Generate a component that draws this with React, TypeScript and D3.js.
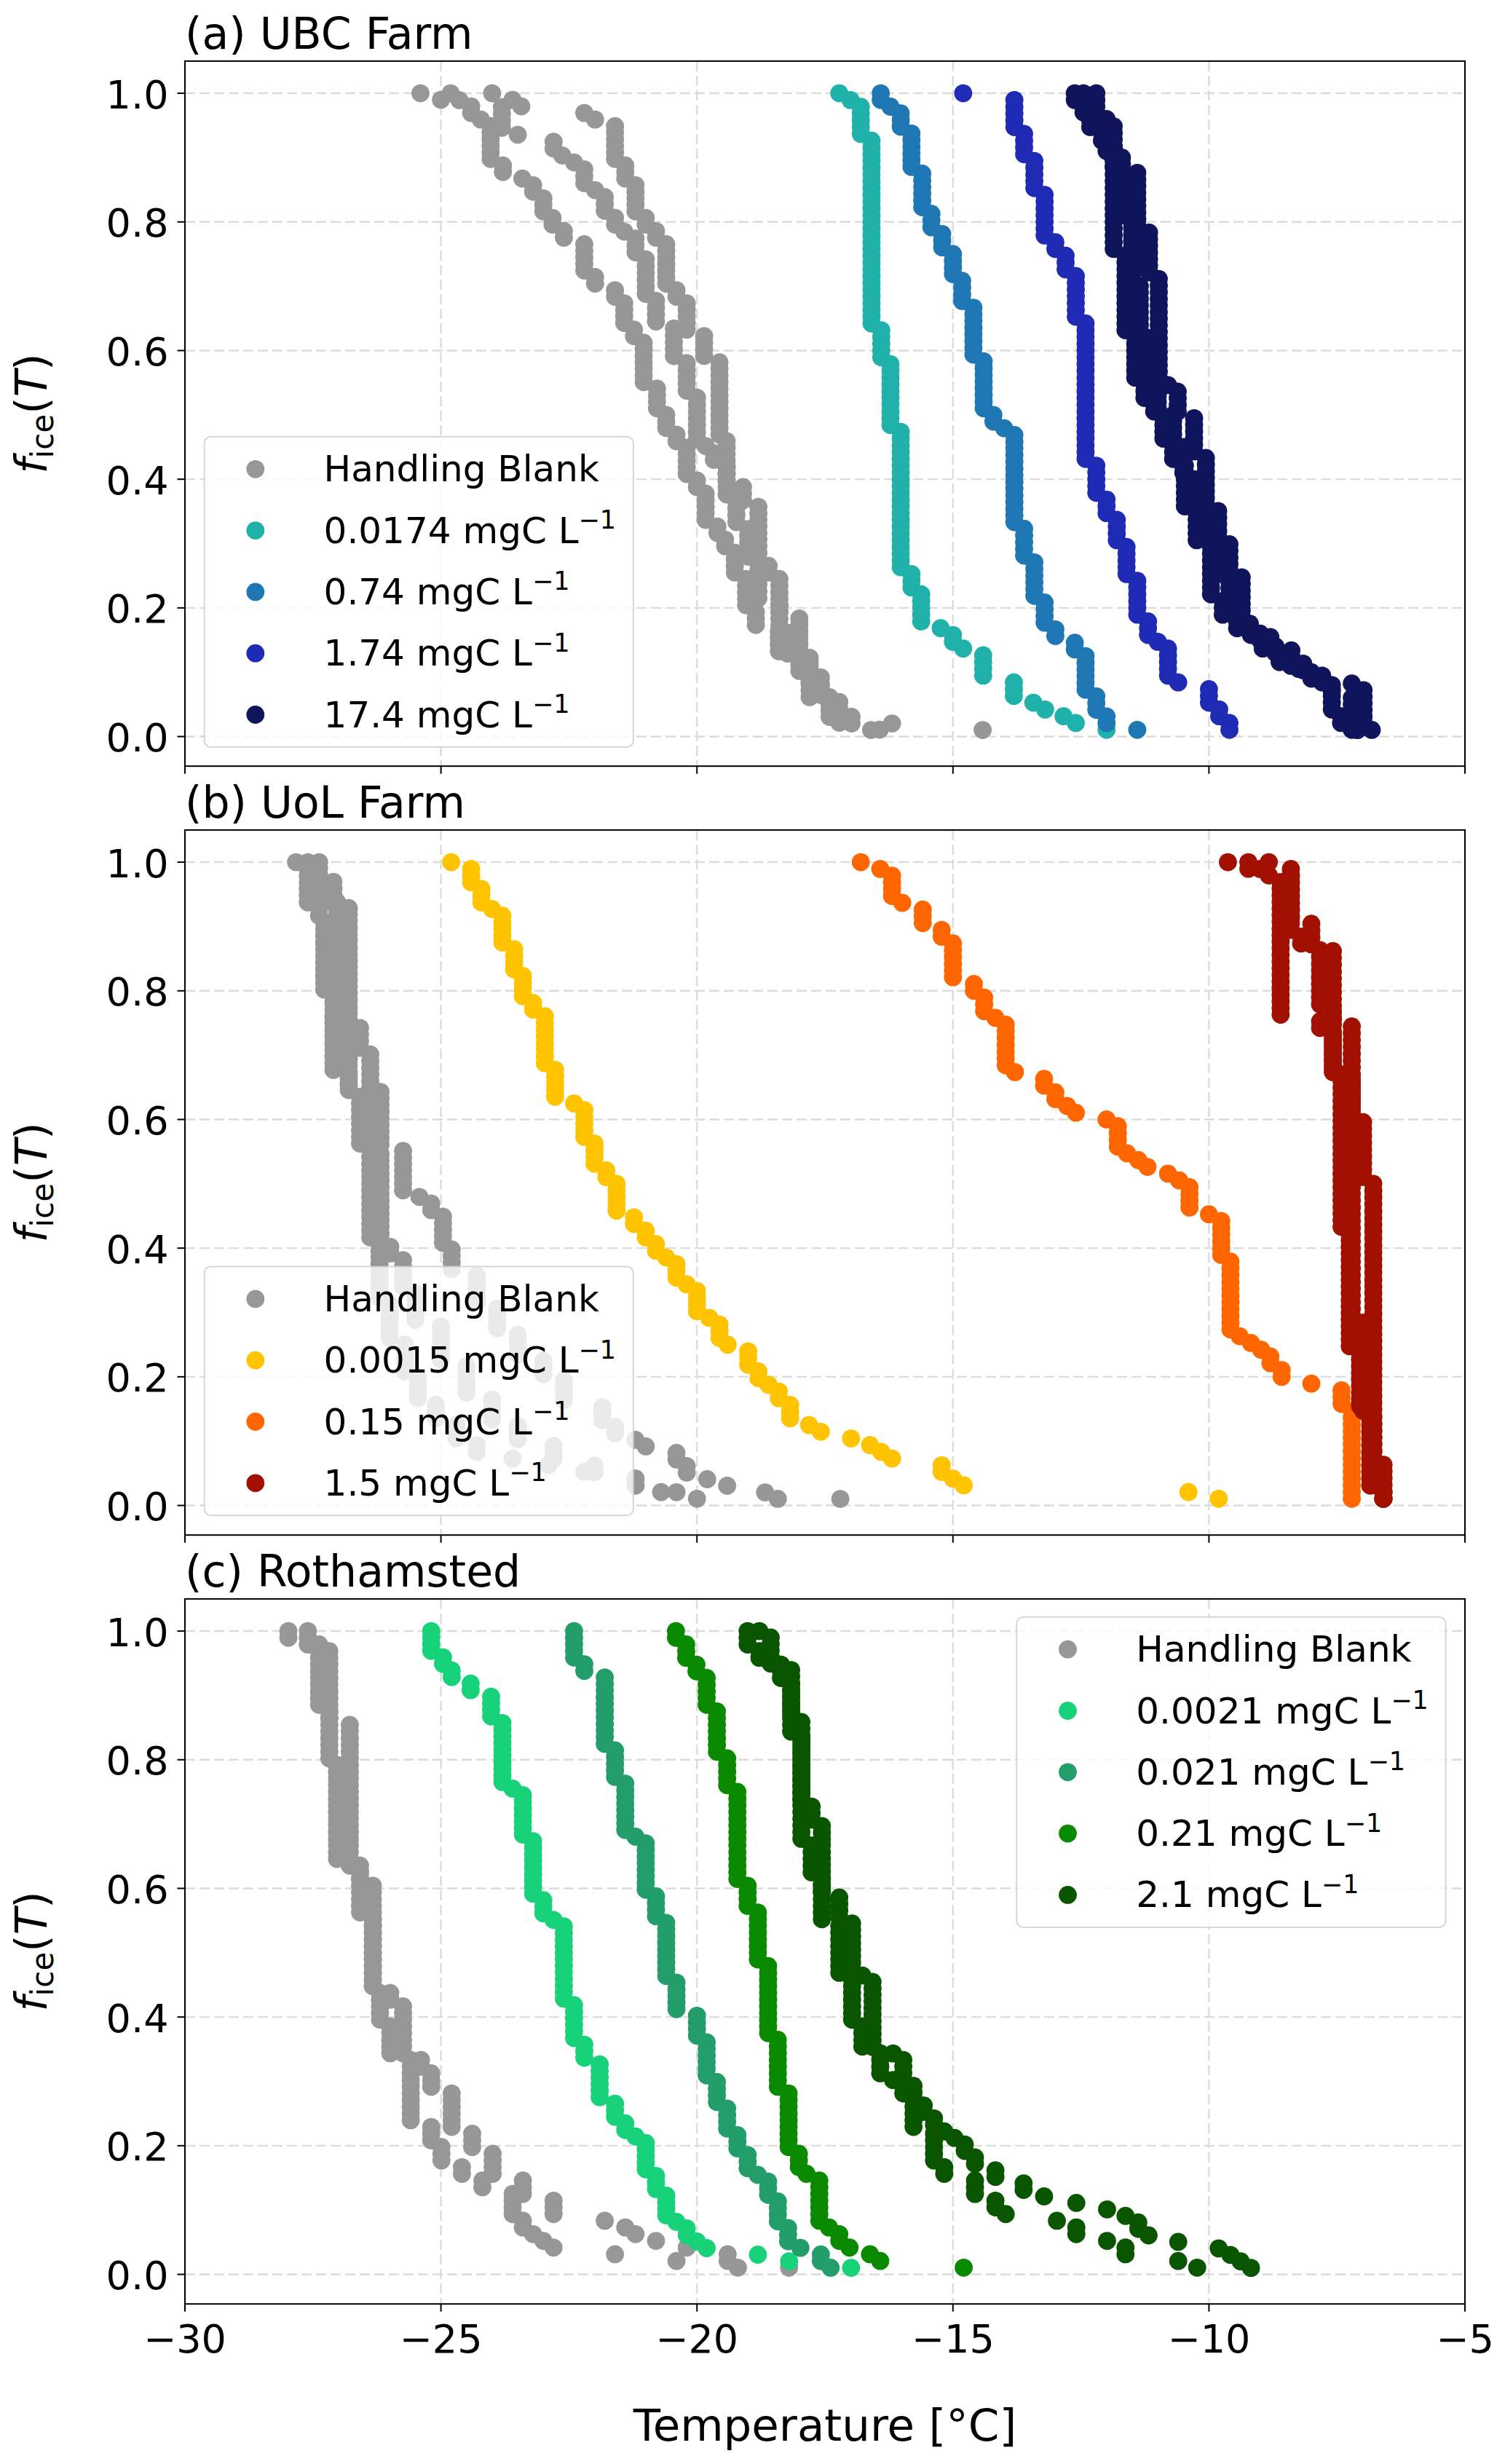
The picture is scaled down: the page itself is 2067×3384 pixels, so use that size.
import React from 'react';
import * as d3 from 'd3';

// Each run: [temperature in °C, number of droplets that froze at that temperature]
// listed from the coldest run (f_ice = 1) to the warmest one.
type Run = [number, number];

// ---------------- axes ----------------
const X_TICKS = [-30, -25, -20, -15, -10, -5];
const Y_TICKS = [0, 0.2, 0.4, 0.6, 0.8, 1.0];
const X_DOMAIN: [number, number] = [-30, -5];
const Y_DOMAIN: [number, number] = [-0.046, 1.05];

// ---------------- text ----------------
const PANEL_TITLES = ['(a) UBC Farm', '(b) UoL Farm', '(c) Rothamsted'];
const UBC_LABELS = ['Handling Blank', '0.0174', '0.74', '1.74', '17.4'];
const UOL_LABELS = ['Handling Blank', '0.0015', '0.15', '1.5'];
const ROTH_LABELS = ['Handling Blank', '0.0021', '0.021', '0.21', '2.1'];

// ---------------- colours ----------------
const GRAY = '#979797';
const UBC_COLORS = [GRAY, '#20b2aa', '#1f77b4', '#1f2bb4', '#10145a'];
const UOL_COLORS = [GRAY, '#ffc300', '#ff6600', '#a11000'];
const ROTH_COLORS = [GRAY, '#18d27a', '#239d69', '#0a8a00', '#0a5500'];

// ---------------- (a) UBC Farm ----------------
const UBC_BLANK_1: Run[] = [[-25.4,1],[-25.0,1],[-24.41,2],[-24.22,1],[-24.03,6],[-23.79,2],[-23.41,1],[-23.2,2],[-23.0,3],[-22.82,2],[-22.6,2],[-22.2,5],[-21.99,2],[-21.6,2],[-21.42,4],[-21.23,2],[-21.04,7],[-20.78,4],[-20.6,3],[-20.4,2],[-20.2,5],[-20.0,2],[-19.83,5],[-19.6,2],[-19.45,2],[-19.26,4],[-19.04,5],[-18.85,3],[-18.4,4],[-18.0,3],[-17.8,4],[-17.41,3],[-16.98,1],[-16.6,1]];
const UBC_BLANK_2: Run[] = [[-24.81,1],[-24.64,1],[-23.81,4],[-23.5,1],[-22.8,2],[-22.63,1],[-22.4,1],[-22.2,3],[-21.99,1],[-21.8,3],[-21.6,2],[-21.42,1],[-21.2,3],[-21.0,6],[-20.8,4],[-20.45,5],[-20.2,5],[-20.0,7],[-19.83,1],[-19.67,2],[-19.42,5],[-19.23,4],[-19.0,5],[-18.8,6],[-18.39,4],[-18.23,4],[-17.8,4],[-17.58,2],[-17.22,4],[-16.43,1]];
const UBC_BLANK_3: Run[] = [[-24.0,1],[-23.6,1],[-23.43,1],[-22.2,1],[-21.99,1],[-21.6,6],[-21.4,3],[-21.2,5],[-21.0,2],[-20.8,2],[-20.6,7],[-20.4,2],[-20.2,5],[-19.86,4],[-19.56,12],[-19.42,7],[-19.1,3],[-18.8,9],[-18.6,2],[-18.39,6],[-18.0,6],[-17.8,3],[-17.58,3],[-17.41,3],[-16.98,1],[-16.19,1],[-14.42,1]];
const UBC_00174: Run[] = [[-17.22,1],[-17.0,1],[-16.8,5],[-16.59,28],[-16.4,5],[-16.22,10],[-16.02,21],[-15.81,3],[-15.62,5],[-15.24,1],[-15.0,2],[-14.8,1],[-14.41,4],[-13.81,3],[-13.43,1],[-13.2,1],[-12.84,1],[-12.6,1],[-12.0,1]];
const UBC_074: Run[] = [[-16.41,2],[-16.22,1],[-16.02,3],[-15.81,6],[-15.6,6],[-15.42,3],[-15.21,3],[-15.0,4],[-14.82,4],[-14.6,8],[-14.4,8],[-14.21,2],[-14.0,1],[-13.8,14],[-13.61,5],[-13.41,6],[-13.21,4],[-13.0,2],[-12.62,2],[-12.41,6],[-12.2,3],[-12.0,2],[-11.4,1]];
const UBC_174: Run[] = [[-14.8,1],[-13.8,5],[-13.61,4],[-13.41,5],[-13.21,7],[-13.0,2],[-12.8,3],[-12.6,7],[-12.41,21],[-12.2,5],[-12.0,3],[-11.8,4],[-11.61,5],[-11.4,6],[-11.19,3],[-11.0,1],[-10.8,5],[-10.6,1],[-10.0,3],[-9.8,2],[-9.6,2]];
const UBC_17_4_1: Run[] = [[-12.62,2],[-12.32,4],[-12.09,2],[-11.86,16],[-11.63,12],[-11.44,7],[-11.26,3],[-11.07,2],[-10.89,4],[-10.7,3],[-10.47,7],[-10.24,5],[-9.96,8],[-9.73,3],[-9.45,2],[-9.18,1],[-8.95,2],[-8.62,2],[-8.25,1],[-7.79,2],[-7.6,4],[-7.42,2],[-7.21,1]];
const UBC_17_4_2: Run[] = [[-12.45,4],[-12.0,6],[-11.7,10],[-11.5,10],[-11.35,8],[-11.2,6],[-11.0,6],[-10.7,5],[-10.5,5],[-10.3,4],[-10.1,6],[-9.9,6],[-9.6,5],[-9.4,3],[-9.0,2],[-8.7,2],[-8.4,2],[-8.0,2],[-7.6,2],[-7.21,4],[-7.1,2]];
const UBC_17_4_3: Run[] = [[-12.2,5],[-11.86,7],[-11.4,9],[-11.17,7],[-10.98,16],[-10.8,1],[-10.61,4],[-10.29,6],[-10.06,8],[-9.82,5],[-9.6,5],[-9.36,7],[-9.2,2],[-8.8,2],[-8.39,2],[-8.16,2],[-7.79,1],[-7.21,1],[-6.98,6],[-6.82,1]];

// ---------------- (b) UoL Farm ----------------
const UOL_BLANK_1: Run[] = [[-27.83,1],[-27.6,6],[-27.38,2],[-27.28,11],[-27.1,12],[-26.8,3],[-26.58,8],[-26.38,14],[-26.2,9],[-26.0,6],[-25.7,5],[-25.45,4],[-25.1,3],[-24.7,3],[-24.3,2],[-23.6,1],[-22.9,1],[-22.2,1],[-21.2,2],[-20.7,1],[-20.0,1]];
const UOL_BLANK_2: Run[] = [[-27.6,2],[-27.38,4],[-27.03,19],[-26.58,4],[-26.38,15],[-26.18,14],[-25.99,2],[-25.74,5],[-25.5,5],[-25.0,6],[-24.5,5],[-24.0,4],[-23.5,3],[-22.8,3],[-22.0,2],[-21.2,2],[-20.4,1],[-18.42,1]];
const UOL_BLANK_3: Run[] = [[-27.38,3],[-27.1,4],[-26.8,28],[-26.18,9],[-25.74,7],[-25.42,1],[-25.19,2],[-24.96,5],[-24.79,4],[-24.3,5],[-23.9,4],[-23.5,4],[-23.0,3],[-22.6,4],[-21.85,3],[-21.6,2],[-21.2,1],[-21.0,1],[-20.4,2],[-20.2,2],[-19.8,1],[-19.41,1],[-18.67,1],[-17.2,1]];
const UOL_00015: Run[] = [[-24.8,1],[-24.41,3],[-24.21,3],[-24.0,1],[-23.8,5],[-23.57,4],[-23.4,4],[-23.2,2],[-22.97,8],[-22.77,5],[-22.4,1],[-22.2,5],[-22.0,4],[-21.77,2],[-21.57,5],[-21.23,2],[-21.0,2],[-20.8,2],[-20.6,1],[-20.4,3],[-20.2,1],[-20.0,4],[-19.76,1],[-19.56,3],[-19.4,1],[-19.0,3],[-18.8,2],[-18.6,1],[-18.4,2],[-18.18,3],[-17.81,1],[-17.58,1],[-16.99,1],[-16.62,1],[-16.4,1],[-16.19,1],[-15.22,2],[-15.0,1],[-14.79,1],[-10.4,1],[-9.81,1]];
const UOL_015: Run[] = [[-16.8,1],[-16.42,1],[-16.19,4],[-15.99,1],[-15.59,3],[-15.22,2],[-15.0,6],[-14.59,2],[-14.39,3],[-14.17,1],[-13.97,7],[-13.79,1],[-13.22,2],[-13.0,2],[-12.77,1],[-12.6,1],[-12.0,1],[-11.78,4],[-11.6,1],[-11.38,1],[-11.2,1],[-10.8,1],[-10.58,1],[-10.38,4],[-10.0,1],[-9.76,6],[-9.58,11],[-9.4,1],[-9.18,1],[-8.98,1],[-8.8,2],[-8.58,2],[-8.0,1],[-7.41,3],[-7.21,14]];
const UOL_15_1: Run[] = [[-9.63,1],[-9.23,1],[-8.83,1],[-8.6,21],[-7.83,2],[-7.58,6],[-7.41,24],[-7.25,18],[-7.05,9],[-6.85,12],[-6.6,2]];
const UOL_15_2: Run[] = [[-9.23,1],[-9.0,1],[-8.4,9],[-8.2,2],[-7.83,9],[-7.58,10],[-7.21,36],[-6.99,14],[-6.79,7],[-6.59,6]];
const UOL_15_3: Run[] = [[-8.83,1],[-8.4,8],[-8.0,4],[-7.58,11],[-7.21,14],[-6.99,9],[-6.79,45],[-6.59,2]];

// ---------------- (c) Rothamsted ----------------
const ROTH_BLANK_1: Run[] = [[-27.98,2],[-27.38,10],[-27.18,8],[-27.03,15],[-26.58,8],[-26.33,11],[-26.19,5],[-25.99,5],[-25.59,10],[-25.19,3],[-24.99,3],[-24.59,2],[-24.19,2],[-23.6,4],[-23.4,2],[-23.2,1],[-23.0,1],[-22.8,1],[-21.6,1],[-20.4,1],[-19.2,1]];
const ROTH_BLANK_2: Run[] = [[-27.6,3],[-27.18,11],[-26.78,22],[-26.58,2],[-26.33,16],[-25.99,2],[-25.74,8],[-25.39,2],[-25.19,3],[-24.79,6],[-24.39,3],[-23.99,4],[-23.4,3],[-22.8,3],[-21.8,1],[-21.4,1],[-21.2,1],[-20.8,1],[-20.2,1],[-19.4,2],[-18.2,1]];
const ROTH_00021: Run[] = [[-25.19,4],[-24.96,2],[-24.79,2],[-24.42,2],[-24.02,4],[-23.8,10],[-23.6,1],[-23.4,7],[-23.2,9],[-23.0,3],[-22.8,1],[-22.6,12],[-22.4,6],[-22.2,3],[-21.9,6],[-21.6,3],[-21.4,2],[-21.2,1],[-21.0,5],[-20.8,3],[-20.6,4],[-20.4,1],[-20.2,2],[-20.0,1],[-19.81,1],[-18.81,1],[-18.2,1],[-16.99,1]];
const ROTH_0021: Run[] = [[-22.4,5],[-22.2,2],[-21.8,11],[-21.6,5],[-21.4,8],[-21.2,1],[-21.0,8],[-20.8,4],[-20.6,9],[-20.4,5],[-20.0,4],[-19.81,6],[-19.61,4],[-19.41,4],[-19.21,3],[-19.01,3],[-18.81,1],[-18.61,3],[-18.42,4],[-18.22,3],[-17.98,1],[-17.58,2],[-17.39,1]];
const ROTH_021: Run[] = [[-20.41,2],[-20.21,3],[-20.01,2],[-19.81,5],[-19.61,7],[-19.41,5],[-19.21,14],[-19.01,4],[-18.81,8],[-18.61,11],[-18.42,8],[-18.21,9],[-18.01,3],[-17.86,1],[-17.61,7],[-17.42,1],[-17.22,2],[-17.02,1],[-16.62,1],[-16.42,1],[-14.79,1]];
const ROTH_21_1: Run[] = [[-19.01,3],[-18.78,2],[-18.36,3],[-18.16,8],[-17.96,16],[-17.76,5],[-17.56,7],[-17.22,8],[-16.97,7],[-16.77,4],[-16.42,4],[-16.17,1],[-15.97,2],[-15.77,5],[-15.37,5],[-15.17,2],[-14.57,3],[-14.17,2],[-13.97,1],[-12.97,1],[-12.59,2],[-11.99,1],[-11.63,2],[-10.6,1],[-10.23,1]];
const ROTH_21_2: Run[] = [[-18.78,1],[-18.56,5],[-18.16,8],[-17.96,13],[-17.76,3],[-17.56,11],[-17.22,4],[-16.97,8],[-16.77,1],[-16.57,11],[-16.17,1],[-15.97,4],[-15.77,3],[-15.57,2],[-15.37,2],[-15.17,1],[-14.97,1],[-14.77,2],[-14.57,2],[-14.17,2],[-13.62,2],[-13.22,1],[-12.59,1],[-11.99,1],[-11.63,1],[-11.38,2],[-11.18,1],[-10.6,1],[-9.81,1],[-9.58,1],[-9.38,1],[-9.18,1]];

// ---------------- layout ----------------
const W = 2067;
const H = 3384;
const LEFT = 254;
const RIGHT = 2012;
const PANEL_TOP0 = 83.9;
const PANEL_STEP = 1056;
const PANEL_H = 968.3;
const FONT = "'DejaVu Sans', 'Liberation Sans', sans-serif";
const R = 12.4;

interface Panel {
  title: string;
  labels: string[];
  colors: string[];
  series: Run[][][];
  legendX: number;
  legendY: number;
}

const PANELS: Panel[] = [
  {
    title: PANEL_TITLES[0], labels: UBC_LABELS, colors: UBC_COLORS,
    series: [[UBC_BLANK_1, UBC_BLANK_2, UBC_BLANK_3], [UBC_00174], [UBC_074], [UBC_174], [UBC_17_4_1, UBC_17_4_2, UBC_17_4_3]],
    legendX: 280.6, legendY: 599.8,
  },
  {
    title: PANEL_TITLES[1], labels: UOL_LABELS, colors: UOL_COLORS,
    series: [[UOL_BLANK_1, UOL_BLANK_2, UOL_BLANK_3], [UOL_00015], [UOL_015], [UOL_15_1, UOL_15_2, UOL_15_3]],
    legendX: 280.6, legendY: 1739.4,
  },
  {
    title: PANEL_TITLES[2], labels: ROTH_LABELS, colors: ROTH_COLORS,
    series: [[ROTH_BLANK_1, ROTH_BLANK_2], [ROTH_00021], [ROTH_0021], [ROTH_021], [ROTH_21_1, ROTH_21_2]],
    legendX: 1396.3, legendY: 2220.7,
  },
];

// cumulative frozen fraction for every droplet of one run list
function frozenFraction(runs: Run[]): [number, number][] {
  const n = d3.sum(runs, (r) => r[1]);
  const out: [number, number][] = [];
  let c = 0;
  for (let i = runs.length - 1; i >= 0; i--) {
    for (let j = 0; j < runs[i][1]; j++) {
      c += 1;
      out.push([runs[i][0], c / n]);
    }
  }
  return out;
}

const x = d3.scaleLinear().domain(X_DOMAIN).range([LEFT, RIGHT]);
const fmtY = d3.format('.1f');
const fmtX = (v: number) => (v < 0 ? '\u2212' + Math.abs(v) : String(v));

function PanelView({ p, i }: { p: Panel; i: number }) {
  const top = PANEL_TOP0 + i * PANEL_STEP;
  const bottom = top + PANEL_H;
  const y = d3.scaleLinear().domain(Y_DOMAIN).range([bottom, top]);
  const isLast = i === PANELS.length - 1;
  const rowH = 84.3;
  const legendH = 89 + rowH * (p.labels.length - 1);
  return (
    <g>
      {/* grid */}
      {X_TICKS.filter((t) => t > X_DOMAIN[0] && t < X_DOMAIN[1]).map((t) => (
        <line key={'gx' + t} x1={x(t)} x2={x(t)} y1={top} y2={bottom} stroke="#dcdcdc" strokeWidth={2.4} strokeDasharray="14,6" />
      ))}
      {Y_TICKS.map((t) => (
        <line key={'gy' + t} x1={LEFT} x2={RIGHT} y1={y(t)} y2={y(t)} stroke="#dcdcdc" strokeWidth={2.4} strokeDasharray="14,6" />
      ))}
      {/* points */}
      {p.series.map((reps, si) => (
        <g key={'s' + si} fill={p.colors[si]}>
          {reps.map((runs, ri) =>
            frozenFraction(runs).map((d, k) => (
              <circle key={ri + '-' + k} cx={x(d[0])} cy={y(d[1])} r={R} />
            ))
          )}
        </g>
      ))}
      {/* spines */}
      <rect x={LEFT} y={top} width={RIGHT - LEFT} height={PANEL_H} fill="none" stroke="#000" strokeWidth={2} />
      {/* ticks */}
      {X_TICKS.map((t) => (
        <line key={'tx' + t} x1={x(t)} x2={x(t)} y1={bottom} y2={bottom + 10.5} stroke="#000" strokeWidth={2} />
      ))}
      {Y_TICKS.map((t) => (
        <g key={'ty' + t}>
          <line x1={LEFT - 10.5} x2={LEFT} y1={y(t)} y2={y(t)} stroke="#000" strokeWidth={2} />
          <text x={231.5} y={y(t) + 20.5} textAnchor="end" fontSize={54} fontFamily={FONT}>{fmtY(t)}</text>
        </g>
      ))}
      {isLast &&
        X_TICKS.map((t) => (
          <text key={'lx' + t} x={x(t)} y={bottom + 66.5} textAnchor="middle" fontSize={54} fontFamily={FONT}>{fmtX(t)}</text>
        ))}
      {/* title */}
      <text x={LEFT} y={top - 17.4} fontSize={60} fontFamily={FONT}>{p.title}</text>
      {/* y label */}
      <text transform={`translate(64,${top + 484}) rotate(-90)`} textAnchor="middle" fontSize={60} fontFamily={FONT}>
        <tspan fontStyle="italic">f</tspan>
        <tspan fontSize={42} dy={9}>ice</tspan>
        <tspan dy={-9}>(</tspan>
        <tspan fontStyle="italic">T</tspan>
        <tspan>)</tspan>
      </text>
      {/* legend */}
      <rect x={p.legendX} y={p.legendY} width={589.3} height={legendH} rx={9} ry={9}
        fill="#ffffff" fillOpacity={0.8} stroke="#cccccc" strokeOpacity={0.8} strokeWidth={2} />
      {p.labels.map((lab, li) => {
        const cy = p.legendY + 44.5 + li * rowH;
        return (
          <g key={'lg' + li}>
            <circle cx={p.legendX + 70.2} cy={cy} r={R} fill={p.colors[li]} />
            <text x={p.legendX + 164} y={cy + 17} fontSize={50} fontFamily={FONT}>
              {li === 0 ? lab : (
                <>
                  {lab + ' mgC L'}
                  <tspan fontSize={35} dy={-19.5}>{'\u22121'}</tspan>
                </>
              )}
            </text>
          </g>
        );
      })}
    </g>
  );
}

export default function App() {
  return (
    <svg width={W} height={H} viewBox={`0 0 ${W} ${H}`} style={{ position: 'absolute', left: 0, top: 0, display: 'block', background: '#fff' }}>
      <rect x={0} y={0} width={W} height={H} fill="#fff" />
      {PANELS.map((p, i) => (
        <PanelView key={i} p={p} i={i} />
      ))}
      <text x={(LEFT + RIGHT) / 2} y={3352} textAnchor="middle" fontSize={61} fontFamily={FONT}>Temperature [°C]</text>
    </svg>
  );
}
